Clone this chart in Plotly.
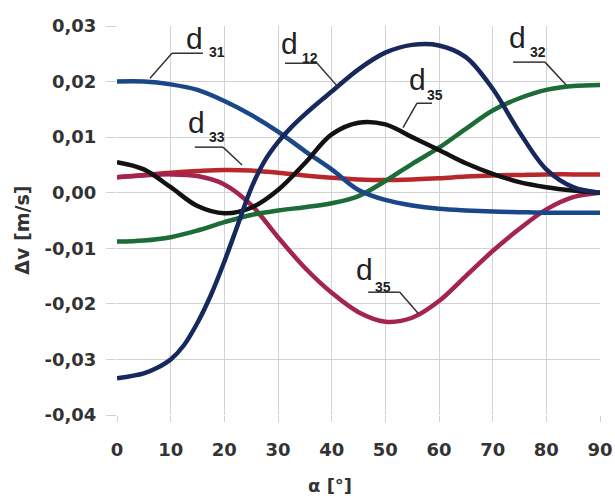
import plotly.graph_objects as go

# Angle samples (degrees)
alpha = [0, 5, 10, 15, 20, 25, 30, 35, 40, 45, 50, 55, 60, 65, 70, 75, 80, 85, 90]
alpha_d12 = [0, 5, 7.5, 10, 12.5, 15, 17.5, 20, 22.5, 25, 27.5, 30, 32.5, 35, 37.5, 40,
             45, 50, 55, 60, 65, 70, 75, 80, 85, 90]

# Velocity differences Δv [m/s] for each curve
d31 = [0.0200, 0.0200, 0.0195, 0.0185, 0.0165, 0.0140, 0.0110, 0.0075, 0.0042, 0.0005,
       -0.0013, -0.0023, -0.0029, -0.0032, -0.0034, -0.0035, -0.0036, -0.0036, -0.0036]
d12 = [-0.0334, -0.0325, -0.0315, -0.0300, -0.0274, -0.0234, -0.0184, -0.0124, -0.0058,
       0.0008, 0.0057, 0.0091, 0.0118, 0.0141, 0.0162, 0.0182, 0.0222, 0.0252, 0.0266,
       0.0265, 0.0244, 0.0187, 0.0109, 0.0042, 0.0010, 0.0000]
d32 = [-0.0088, -0.0086, -0.0080, -0.0068, -0.0053, -0.0040, -0.0032, -0.0026, -0.0019, -0.0006,
       0.0021, 0.0052, 0.0081, 0.0115, 0.0148, 0.0170, 0.0185, 0.0192, 0.0194]
d35_upper = [0.0055, 0.0042, 0.0010, -0.0024, -0.0037, -0.0027, 0.0005, 0.0053, 0.0105, 0.0126,
             0.0123, 0.0100, 0.0077, 0.0053, 0.0034, 0.0019, 0.0010, 0.0004, 0.0000]
d33 = [0.0028, 0.0032, 0.0036, 0.0039, 0.0041, 0.0040, 0.0036, 0.0031, 0.0027, 0.0024,
       0.0023, 0.0024, 0.0026, 0.0029, 0.0031, 0.0032, 0.0033, 0.0033, 0.0033]
d35_lower = [0.0028, 0.0031, 0.0033, 0.0030, 0.0015, -0.0022, -0.0080, -0.0135, -0.0180, -0.0215,
             -0.0232, -0.0225, -0.0195, -0.0150, -0.0105, -0.0065, -0.0030, -0.0008, 0.0000]

x_ticks = [0, 10, 20, 30, 40, 50, 60, 70, 80, 90]
x_tick_labels = ["0", "10", "20", "30", "40", "50", "60", "70", "80", "90"]
y_ticks = [-0.04, -0.03, -0.02, -0.01, 0.00, 0.01, 0.02, 0.03]
y_tick_labels = ["-0,04", "-0,03", "-0,02", "-0,01", "0,00", "0,01", "0,02", "0,03"]

series = [
    (alpha, d33, "#b8282a"),
    (alpha, d35_lower, "#a3244c"),
    (alpha, d32, "#1d6b36"),
    (alpha, d31, "#1a468a"),
    (alpha, d35_upper, "#121212"),
    (alpha_d12, d12, "#16285c"),
]

fig = go.Figure()
for xs, ys, color in series:
    fig.add_trace(go.Scatter(x=xs, y=ys, mode="lines",
                             line=dict(color=color, width=4.5, shape="spline", smoothing=1.0),
                             showlegend=False, hoverinfo="skip"))

# Curve labels: (main text, subscript, d position, subscript position, leader polyline)
labels = [
    ("d", "31", (14.5, 0.0278), (18.6, 0.0253), [(16.0, 0.0251), (10.25, 0.0251), (6.15, 0.0206)]),
    ("d", "12", (32.2, 0.0269), (36.0, 0.0242), [(31.3, 0.0233), (37.3, 0.0233), (41.2, 0.0190)]),
    ("d", "32", (74.7, 0.0280), (78.5, 0.0253), [(73.8, 0.0235), (79.75, 0.0235), (83.7, 0.0194)]),
    ("d", "35", (55.9, 0.0203), (59.3, 0.0176), [(58.7, 0.0161), (55.9, 0.0161), (53.3, 0.0117)]),
    ("d", "33", (14.9, 0.0127), (18.6, 0.0100), [(14.5, 0.0082), (19.75, 0.0082), (23.3, 0.0050)]),
    ("d", "35", (46.2, -0.0139), (49.6, -0.0170), [(46.8, -0.0179), (52.7, -0.0179), (56.1, -0.0217)]),
]

label_font = "Liberation Sans, Arial, sans-serif"
axis_font = "DejaVu Sans, Verdana, sans-serif"
for main, sub, pmain, psub, leader in labels:
    fig.add_annotation(x=pmain[0], y=pmain[1], text=main, showarrow=False,
                       font=dict(family=label_font, size=30, color="#222222"))
    fig.add_annotation(x=psub[0], y=psub[1], text="<b>" + sub + "</b>", showarrow=False,
                       font=dict(family=label_font, size=14, color="#222222"))
    for (x0, y0), (x1, y1) in zip(leader[:-1], leader[1:]):
        fig.add_shape(type="line", x0=x0, y0=y0, x1=x1, y1=y1,
                      line=dict(color="#333333", width=1.5))

fig.add_annotation(x=-0.197, y=0.476, xref="paper", yref="paper", text="<b>Δv [m/s]</b>",
                   textangle=-90, showarrow=False, xanchor="center", yanchor="middle",
                   font=dict(family=axis_font, size=19, color="#333333"))
fig.add_annotation(x=0.441, y=-0.18, xref="paper", yref="paper", text="<b>α [°]</b>",
                   showarrow=False, xanchor="center", yanchor="middle",
                   font=dict(family=axis_font, size=18, color="#333333"))

grid = "#d2d2d2"
tick_font = dict(size=18, family=axis_font, weight="bold", color="#333333")
fig.update_layout(
    width=615, height=498,
    margin=dict(l=117, r=15, t=26, b=83, autoexpand=False),
    paper_bgcolor="white", plot_bgcolor="white",
    font=dict(family=axis_font, color="#333333"),
    xaxis=dict(range=[0, 90], tickvals=x_ticks, ticktext=x_tick_labels, automargin=False,
               showgrid=True, gridcolor=grid, gridwidth=1.2,
               zeroline=False, showline=False, ticks="outside", ticklen=6, tickcolor=grid,
               tickfont=tick_font, ticklabelstandoff=12),
    yaxis=dict(range=[-0.04, 0.03], tickvals=y_ticks, ticktext=y_tick_labels, automargin=False,
               showgrid=True, gridcolor=grid, gridwidth=1.2, zeroline=False, showline=False,
               ticks="outside", ticklen=10, tickcolor=grid,
               tickfont=tick_font, ticklabelstandoff=6),
)

fig.write_html("out.html")
